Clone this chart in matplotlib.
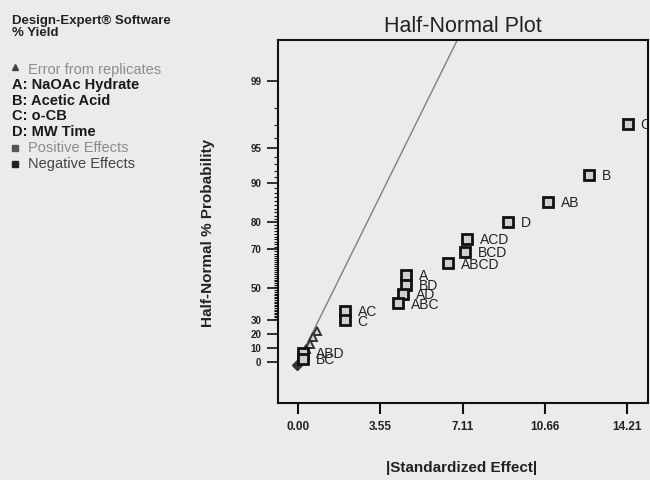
import math
from statistics import NormalDist
import numpy as np
import matplotlib
matplotlib.use("Agg")
import matplotlib.pyplot as plt
from matplotlib.lines import Line2D

# ---------------- data ----------------
effect_labels = ["C", "B", "AB", "D", "ACD", "BCD", "ABCD", "A", "BD", "AD",
                 "ABC", "AC", "C", "ABD", "BC"]
effect_x = [14.25, 12.57, 10.80, 9.07, 7.30, 7.21, 6.48, 4.67, 4.67, 4.54,
            4.32, 2.03, 2.03, 0.23, 0.23]
effect_p = [97.1, 91.4, 85.8, 80.1, 74.1, 68.7, 63.4, 57.5, 52.0, 46.7,
            40.9, 36.0, 29.7, 6.9, 2.2]

error_x = [0.81, 0.66, 0.50, 0.35]
error_p = [22.4, 17.8, 13.1, 9.5]
origin_x = [-0.05]
origin_p = [-2.0]

line_x = [0.0, 7.2]      # fitted line through the error estimates
line_p = [0.0, 99.8]

xticks = [0.00, 3.55, 7.11, 10.66, 14.21]
yticks = [0, 10, 20, 30, 50, 70, 80, 90, 95, 99]
yminor = [v for v in range(31, 99) if v not in yticks]

legend_lines = ["Design-Expert\u00ae Software", "% Yield"]
factor_lines = ["A: NaOAc Hydrate", "B: Acetic Acid", "C: o-CB", "D: MW Time"]

# ---------------- half-normal probability scale ----------------
_nd = NormalDist()


def _fwd_scalar(p):
    q = (1.0 + p / 100.0) / 2.0
    q = min(max(q, 1e-9), 1 - 1e-9)
    return _nd.inv_cdf(q)


def _inv_scalar(z):
    return math.erf(z / math.sqrt(2.0)) * 100.0


fwd = np.vectorize(_fwd_scalar, otypes=[float])
inv = np.vectorize(_inv_scalar, otypes=[float])

BG = "#ebebeb"
plt.rcParams["font.family"] = ["Liberation Sans", "DejaVu Sans"]

fig = plt.figure(figsize=(6.5, 4.8), dpi=100, facecolor=BG)
ax = fig.add_axes([278 / 650, 1 - 403 / 480, 370 / 650, 363 / 480])
ax.set_facecolor(BG)
ax.set_yscale("function", functions=(fwd, inv))
ax.set_xlim(-0.864, 15.12)
ax.set_ylim(inv(-0.376), inv(2.954))

# fitted line
ax.plot(line_x, line_p, color="#808080", lw=1.0, zorder=1)

# error from replicates
ax.plot(error_x, error_p, ls="none", marker="^", ms=6, mfc="#d8d8d8",
        mec="#333333", mew=1.4, zorder=3)
ax.plot(origin_x, origin_p, ls="none", marker="D", ms=5, mfc="#333333",
        mec="#333333", zorder=3)

# effects
ax.plot(effect_x, effect_p, ls="none", marker="s", ms=7.5, mfc="#cfcfcf",
        mec="#111111", mew=2.0, zorder=4)
for lab, xv, pv in zip(effect_labels, effect_x, effect_p):
    ax.annotate(lab, (xv, pv), xytext=(9, -1), textcoords="offset points",
                ha="left", va="center", fontsize=10, color="#222222",
                annotation_clip=False, clip_on=True, zorder=5)

for s in ax.spines.values():
    s.set_linewidth(1.5)
    s.set_color("#111111")

ax.set_xticks(xticks)
ax.set_xticklabels([f"{v:.2f}" for v in xticks], fontsize=8.5,
                   fontweight="bold", color="#222222")
ax.set_yticks(yticks)
ax.set_yticklabels([str(v) for v in yticks], fontsize=7,
                   fontweight="bold", color="#222222")
ax.set_yticks(yminor, minor=True)
ax.xaxis.set_minor_locator(matplotlib.ticker.NullLocator())
ax.tick_params(axis="x", which="major", length=8, width=1.5, pad=5,
               color="#111111")
ax.tick_params(axis="y", which="major", length=8, width=1.2, pad=4,
               color="#111111")
ax.tick_params(axis="y", which="minor", length=3, width=0.8, color="#111111")

ax.set_title("Half-Normal Plot", fontsize=15.5, color="#222222", pad=6)
fig.text(462 / 650, 1 - 468 / 480, "|Standardized Effect|", ha="center",
         va="center", fontsize=11, fontweight="bold", color="#222222")
fig.text(208 / 650, 1 - 233 / 480, "Half-Normal % Probability",
         rotation=90, ha="center", va="center", fontsize=11,
         fontweight="bold", color="#222222")

# ---------------- left side legend block ----------------
def fy(py):
    return 1 - py / 480


fig.text(12 / 650, fy(20.5), legend_lines[0], ha="left", va="center",
         fontsize=9.5, fontweight="bold", color="#222222")
fig.text(12 / 650, fy(33.5), legend_lines[1], ha="left", va="center",
         fontsize=9.5, fontweight="bold", color="#222222")

fig.add_artist(Line2D([15 / 650], [fy(67)], marker="^", ms=4.5, color="#444444",
                      transform=fig.transFigure))
fig.text(28 / 650, fy(70), "Error from replicates", ha="left", va="center",
         fontsize=10.5, color="#8c8c8c")

for i, t in enumerate(factor_lines):
    fig.text(12 / 650, fy(85 + i * 15.6), t, ha="left", va="center",
             fontsize=10.5, fontweight="bold", color="#1a1a1a")

fig.add_artist(Line2D([15 / 650], [fy(148.3)], marker="s", ms=4.5,
                      color="#555555", transform=fig.transFigure))
fig.text(28 / 650, fy(148.3), "Positive Effects", ha="left", va="center",
         fontsize=10.5, color="#8c8c8c")
fig.add_artist(Line2D([15 / 650], [fy(164)], marker="s", ms=4.5,
                      color="#222222", transform=fig.transFigure))
fig.text(28 / 650, fy(164), "Negative Effects", ha="left", va="center",
         fontsize=10.5, color="#444444")

fig.savefig("out.png", dpi=100, facecolor=BG)
